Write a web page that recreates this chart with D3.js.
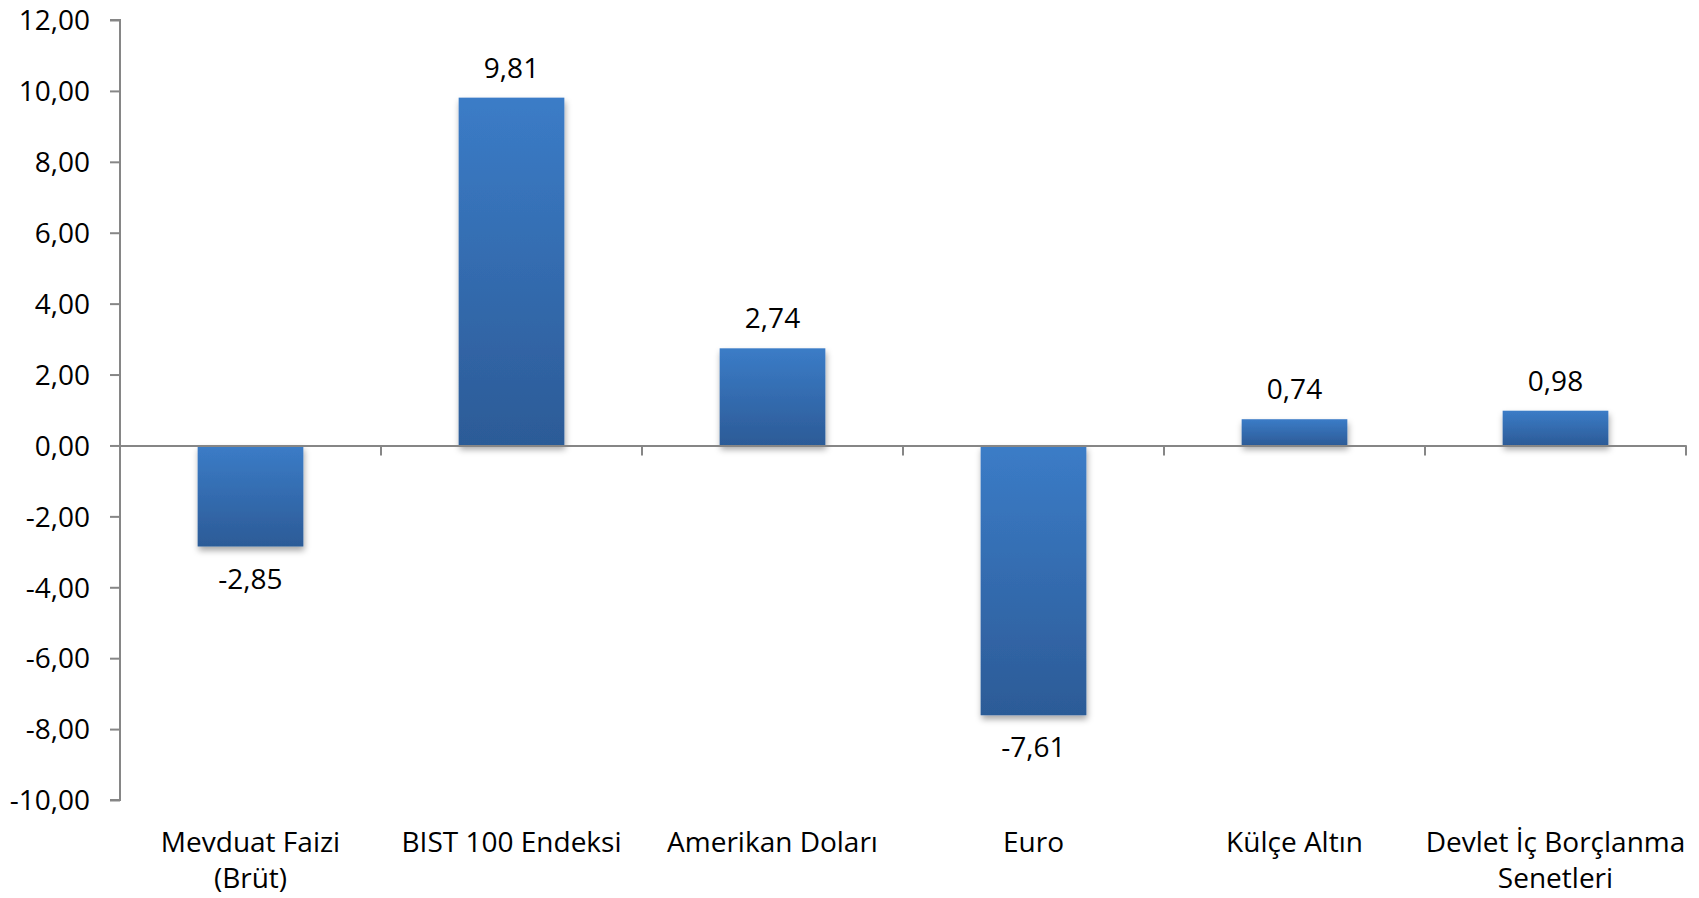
<!DOCTYPE html>
<html><head><meta charset="utf-8">
<script src="https://cdn.jsdelivr.net/npm/d3@7"></script>
<style>
body{margin:0;background:#fff;}
text{font-family:"Open Sans",Lato,sans-serif;fill:#000;}
</style></head>
<body>
<svg id="chart" width="1699" height="898"></svg>
<script>
const categories = [["Mevduat Faizi","(Brüt)"],["BIST 100 Endeksi"],["Amerikan Doları"],["Euro"],["Külçe Altın"],["Devlet İç Borçlanma","Senetleri"]];
const values = [-2.85, 9.81, 2.74, -7.61, 0.74, 0.98];
const yTicks = [-10,-8,-6,-4,-2,0,2,4,6,8,10,12];

(function(){
const svg = d3.select("#chart");
const mLeft = 120, mRight = 1686, mTop = 20, mBottom = 800;
const fmt = v => v.toFixed(2).replace(".", ",");
const fs = 28;

const defs = svg.append("defs");
const grad = defs.append("linearGradient").attr("id","g").attr("x1",0).attr("y1",0).attr("x2",0).attr("y2",1);
grad.append("stop").attr("offset","0%").attr("stop-color","#3B7CC7");
grad.append("stop").attr("offset","100%").attr("stop-color","#2C5B97");
const f = defs.append("filter").attr("id","sh").attr("x","-20%").attr("y","-20%").attr("width","140%").attr("height","160%");
f.append("feDropShadow").attr("dx",1).attr("dy",4).attr("stdDeviation",3).attr("flood-color","#000").attr("flood-opacity",0.35);

const idx = d3.range(categories.length);
const x = d3.scaleBand().domain(idx).range([mLeft,mRight]).paddingInner(0).paddingOuter(0);
const y = d3.scaleLinear().domain([-10,12]).range([mBottom,mTop]);
const bw = x.bandwidth()*0.405;

svg.append("g").selectAll("rect").data(idx).join("rect")
  .attr("x", i => x(i)+x.bandwidth()/2-bw/2)
  .attr("y", i => y(Math.max(0,values[i])))
  .attr("width", bw)
  .attr("height", i => Math.abs(y(values[i])-y(0)))
  .attr("fill","url(#g)")
  .attr("filter","url(#sh)");

const yAxis = d3.axisLeft(y).tickValues(yTicks).tickFormat(fmt).tickSize(10).tickPadding(20);
const ga = svg.append("g").attr("transform",`translate(${mLeft},0)`).call(yAxis);
ga.select(".domain").attr("stroke","#868686").attr("stroke-width",2).attr("d",`M-10,${y(12)}H0V${y(-10)}H-10`);
ga.selectAll(".tick line").attr("stroke","#868686").attr("stroke-width",2);
ga.selectAll(".tick text").attr("font-size",fs).attr("font-family","'Open Sans',sans-serif").attr("fill","#000").attr("dy","0.35em");

const xAxis = d3.axisBottom(x).tickValues([]).tickSize(0);
const gx = svg.append("g").attr("transform",`translate(0,${y(0)})`).call(xAxis);
gx.select(".domain").attr("stroke","#868686").attr("stroke-width",2);
gx.selectAll(".bt").data(d3.range(categories.length+1)).join("line")
  .attr("x1", i => mLeft + i*x.step()).attr("x2", i => mLeft + i*x.step())
  .attr("y1",0).attr("y2",10).attr("stroke","#868686").attr("stroke-width",2);

const cl = svg.append("g").selectAll("text").data(idx).join("text")
  .attr("text-anchor","middle").attr("font-size",fs)
  .attr("x", i => x(i)+x.bandwidth()/2).attr("y",852);
cl.selectAll("tspan").data(i => categories[i].map(t=>({t,i}))).join("tspan")
  .attr("x", d => x(d.i)+x.bandwidth()/2)
  .attr("dy",(d,k)=> k===0?0:36).text(d=>d.t);

svg.append("g").selectAll("text").data(idx).join("text")
  .attr("text-anchor","middle").attr("font-size",fs)
  .attr("x", i => x(i)+x.bandwidth()/2)
  .attr("y", i => values[i]>=0 ? y(values[i])-20 : y(values[i])+42)
  .text(i => fmt(values[i]));
})();
</script>
</body></html>
